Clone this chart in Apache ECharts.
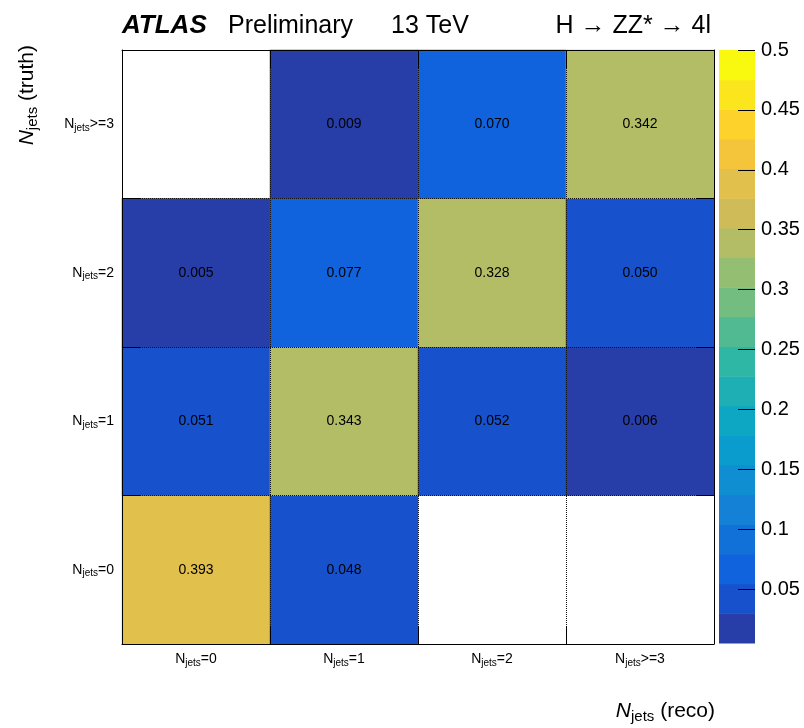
<!DOCTYPE html>
<html><head><meta charset="utf-8">
<script src="https://cdn.jsdelivr.net/npm/echarts@6/dist/echarts.min.js"></script>
<style>html,body{margin:0;padding:0;background:#fff}#c{width:804px;height:728px}</style>
</head><body><div id="c"></div>
<script>
// ---- data ----
const recoCategories = ['=0', '=1', '=2', '>=3'];
const truthCategories = ['=0', '=1', '=2', '>=3'];
// each row: truth bin, columns: reco bins (null = empty bin)
const truth0 = [0.393, 0.048, null, null];
const truth1 = [0.051, 0.343, 0.052, 0.006];
const truth2 = [0.005, 0.077, 0.328, 0.050];
const truth3 = [null, 0.009, 0.070, 0.342];
const colorbarTicks = [0.05, 0.1, 0.15, 0.2, 0.25, 0.3, 0.35, 0.4, 0.45, 0.5];
const zMin = 0.005, zMax = 0.5, nContours = 20;

// ---- palette (ROOT kBird) ----
const birdR = [0.2082, 0.0592, 0.0780, 0.0232, 0.1802, 0.5301, 0.8186, 0.9956, 0.9764];
const birdG = [0.1664, 0.3599, 0.5041, 0.6419, 0.7178, 0.7492, 0.7328, 0.7862, 0.9832];
const birdB = [0.5293, 0.8684, 0.8385, 0.7914, 0.6425, 0.4662, 0.3499, 0.1968, 0.0539];
function birdColor(t) {
  const seg = Math.min(7, Math.floor(t * 8));
  const f = t * 8 - seg;
  const c = a => Math.round(255 * (a[seg] + (a[seg + 1] - a[seg]) * f));
  return 'rgb(' + c(birdR) + ',' + c(birdG) + ',' + c(birdB) + ')';
}
const bands = [];
for (let i = 0; i < nContours; i++) {
  const lo = zMin + (zMax - zMin) * i / nContours;
  const hi = zMin + (zMax - zMin) * (i + 1) / nContours;
  const idx = Math.floor((i + 0.99) * 255 / nContours);
  bands.push({ lo, hi, color: birdColor(idx / 255) });
}

const rows = [truth0, truth1, truth2, truth3];
const heatData = [];
rows.forEach((row, t) => row.forEach((v, r) => { if (v !== null) heatData.push([r, t, v]); }));

const FONT = '"Liberation Sans", Arial, Helvetica, sans-serif';
const tickRich = {
  n: { fontSize: 14, lineHeight: 17, fontFamily: FONT, color: '#000' },
  s: { fontSize: 10, lineHeight: 10, verticalAlign: 'bottom', fontFamily: FONT, color: '#000' }
};
const catLabel = c => '{n|N}{s|jets}{n|' + c + '}';
const titleRich = {
  n: { fontSize: 21, lineHeight: 26, fontFamily: FONT, fill: '#000', fontStyle: 'italic' },
  s: { fontSize: 15, lineHeight: 15, verticalAlign: 'bottom', fontFamily: FONT, fill: '#000' },
  t: { fontSize: 21, lineHeight: 26, fontFamily: FONT, fill: '#000' }
};
const dotted = { color: '#111', width: 1, type: [1, 1] };
const black = { color: '#000', width: 1 };
const frameTick = { show: true, inside: true, length: 18, lineStyle: black };

const option = {
  animation: false,
  backgroundColor: '#fff',
  grid: [
    { left: 122, right: 90, top: 50, bottom: 84 },
    { left: 719, right: 49, top: 50, bottom: 85 }
  ],
  xAxis: [
    { gridIndex: 0, type: 'category', data: recoCategories, position: 'bottom', z: 10,
      axisLine: { show: true, lineStyle: black },
      axisTick: frameTick,
      axisLabel: { margin: 7, formatter: catLabel, rich: tickRich },
      splitLine: { show: true, lineStyle: dotted } },
    { gridIndex: 0, type: 'category', data: recoCategories, position: 'top', z: 10,
      axisLine: { show: true, lineStyle: black }, axisTick: frameTick,
      axisLabel: { show: false }, splitLine: { show: false } },
    { gridIndex: 1, type: 'category', data: [''], show: false }
  ],
  yAxis: [
    { gridIndex: 0, type: 'category', data: truthCategories, position: 'left', z: 10,
      axisLine: { show: true, lineStyle: black },
      axisTick: frameTick,
      axisLabel: { margin: 8, formatter: catLabel, rich: tickRich },
      splitLine: { show: true, lineStyle: dotted } },
    { gridIndex: 0, type: 'category', data: truthCategories, position: 'right', z: 10,
      axisLine: { show: true, lineStyle: black }, axisTick: frameTick,
      axisLabel: { show: false }, splitLine: { show: false } },
    { gridIndex: 1, type: 'value', min: zMin, max: zMax, position: 'right', z: 10,
      axisLine: { show: false },
      axisTick: { show: true, inside: true, length: 17, lineStyle: black, customValues: colorbarTicks },
      axisLabel: { customValues: colorbarTicks, fontSize: 20, fontFamily: FONT, color: '#000', margin: 6 },
      splitLine: { show: false } }
  ],
  visualMap: {
    type: 'piecewise', show: false, seriesIndex: 0, dimension: 2,
    pieces: bands.map((b, i) => i === bands.length - 1
      ? { gte: b.lo, lte: b.hi, color: b.color }
      : { gte: b.lo, lt: b.hi, color: b.color })
  },
  series: [
    { type: 'heatmap', xAxisIndex: 0, yAxisIndex: 0, data: heatData,
      label: { show: true, formatter: p => p.value[2].toFixed(3), fontSize: 14, fontFamily: FONT, color: '#000' },
      emphasis: { disabled: true } },
    { type: 'custom', xAxisIndex: 2, yAxisIndex: 2,
      data: bands.map((b, i) => [0, b.lo, b.hi, i]),
      encode: { x: 0, y: [1, 2] },
      renderItem: (params, api) => {
        const top = api.coord([api.value(0), api.value(2)]);
        const bot = api.coord([api.value(0), api.value(1)]);
        const w = api.size([1, 0])[0];
        return { type: 'rect',
          shape: { x: top[0] - w / 2, y: top[1], width: w, height: bot[1] - top[1] + 0.5 },
          style: { fill: bands[api.value(3)].color } };
      } }
  ],
  graphic: [
    { type: 'text', x: 122, y: 26, style: { text: 'ATLAS', font: 'italic bold 26px ' + FONT, fill: '#000', verticalAlign: 'middle', textVerticalAlign: 'middle' } },
    { type: 'text', x: 228, y: 26, style: { text: 'Preliminary', font: '25px ' + FONT, fill: '#000', verticalAlign: 'middle', textVerticalAlign: 'middle' } },
    { type: 'text', x: 391, y: 26, style: { text: '13 TeV', font: '25px ' + FONT, fill: '#000', verticalAlign: 'middle', textVerticalAlign: 'middle' } },
    { type: 'text', x: 711, y: 26, style: { text: 'H \u2192 ZZ* \u2192 4l', font: '25px ' + FONT, fill: '#000', align: 'right', textAlign: 'right', verticalAlign: 'middle', textVerticalAlign: 'middle' } },
    { type: 'text', x: 715, y: 711, style: { text: '{n|N}{s|jets}{t| (reco)}', rich: titleRich, align: 'right', textAlign: 'right', verticalAlign: 'middle', textVerticalAlign: 'middle' } },
    { type: 'text', x: 27, y: 45, rotation: Math.PI / 2, style: { text: '{n|N}{s|jets}{t| (truth)}', rich: titleRich, align: 'right', textAlign: 'right', verticalAlign: 'middle', textVerticalAlign: 'middle' } }
  ]
};
echarts.init(document.getElementById('c'), null, { renderer: 'canvas' }).setOption(option);
</script></body></html>
